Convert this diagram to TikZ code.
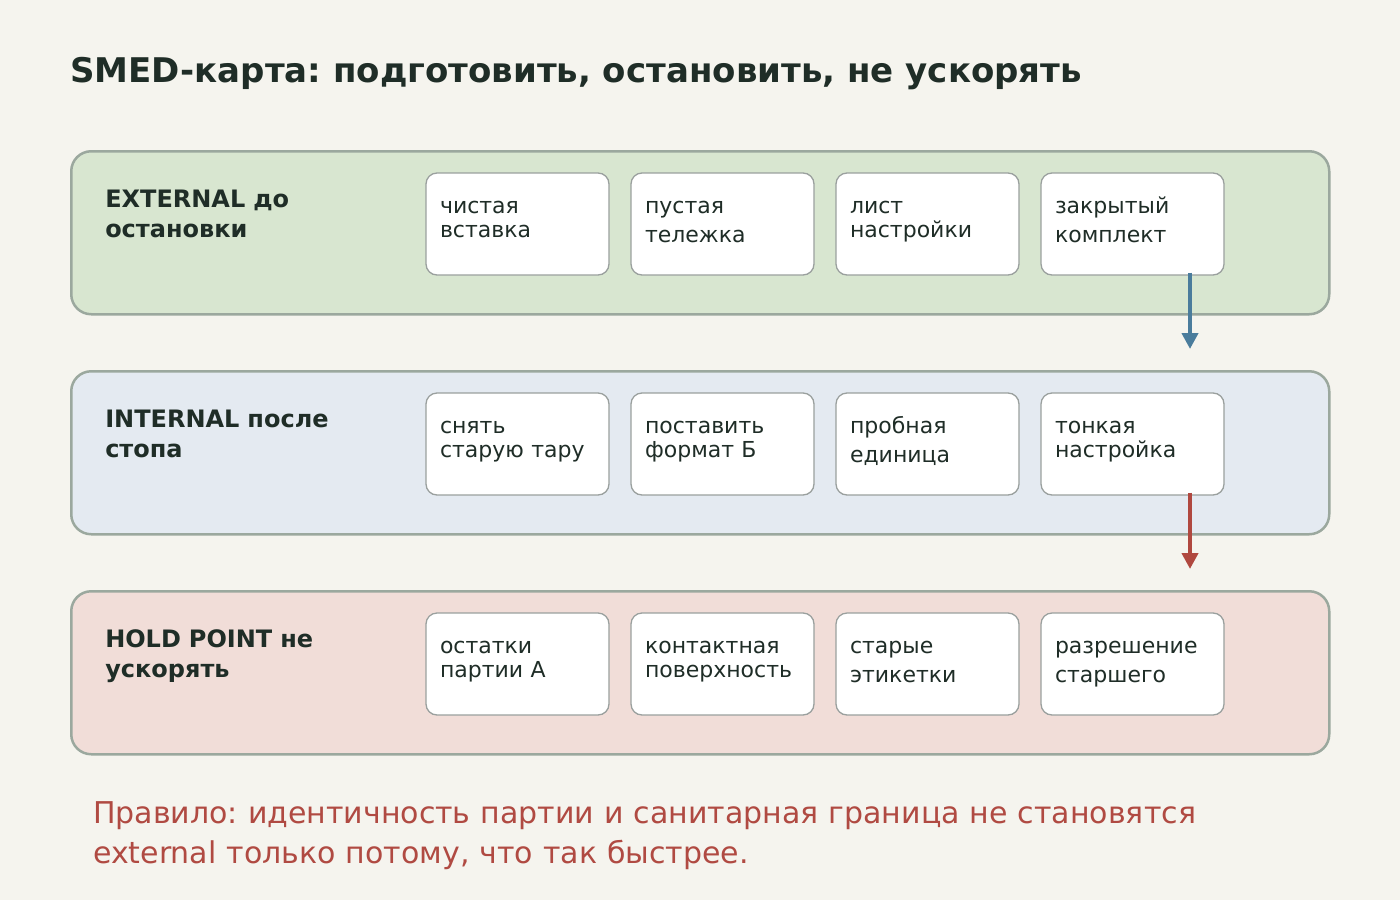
\documentclass[tikz,border=0pt]{standalone}
\usepackage{fontspec}
\setmainfont{DejaVu Sans}
\usepackage{xcolor}
\usepackage{tikz}
\usetikzlibrary{arrows.meta, positioning}
\frenchspacing
\definecolor{pagebg}{HTML}{F5F4EE}
\definecolor{inkdark}{HTML}{1F2D27}
\definecolor{laneline}{HTML}{9BA89E}
\definecolor{cardline}{HTML}{9AA09E}
\definecolor{extfill}{HTML}{D8E6D0}
\definecolor{intfill}{HTML}{E4EAF1}
\definecolor{holdfill}{HTML}{F1DDD8}
\definecolor{arrowblue}{HTML}{4A7C9C}
\definecolor{arrowred}{HTML}{B0483F}
\definecolor{ruletext}{HTML}{B04A42}
\tikzset{
  lane/.style={rectangle, draw=laneline, line width=2.5pt, rounded corners=20pt,
               fill=#1, anchor=north west, minimum width=1258pt,
               inner xsep=34pt, inner ysep=0pt, text width=1190pt, align=left,
               text height=56pt, text depth=107pt, text=inkdark,
               font=\fontsize{24}{30}\selectfont\bfseries},
  card/.style={rectangle, draw=cardline, line width=1.3pt, rounded corners=11pt,
               fill=white, minimum width=183pt, text width=155pt, align=left,
               inner xsep=14pt, inner ysep=0pt, text height=40pt, text depth=62pt,
               text=inkdark, font=\fontsize{22}{24}\selectfont},
  flow/.style={-{Triangle[width=16pt,length=16pt]}, line width=4pt},
}

\begin{document}
\begin{tikzpicture}[x=1pt, y=-1pt, node distance=20.7pt]

% ── Canvas ────────────────────────────────────────────────────────────────────
\fill[pagebg] (0,0) rectangle (1400,900);
\useasboundingbox (0,0) rectangle (1400,900);

% ── Title ─────────────────────────────────────────────────────────────────────
\node[anchor=base west, inner sep=0pt, text=inkdark,
      font=\fontsize{34}{40}\selectfont\bfseries] (title) at (70,82)
  {SMED-карта: подготовить, остановить, не ускорять};

% ── Lanes ─────────────────────────────────────────────────────────────────────
\node[lane=extfill]  (ext)  at (70,150) {EXTERNAL до\\остановки};
\node[lane=intfill]  (int)  at (70,370) {INTERNAL после\\стопа};
\node[lane=holdfill] (hold) at (70,590) {HOLD POINT не\\ускорять};

% ── Cards: external ───────────────────────────────────────────────────────────
\node[card, anchor=north west] (e1) at (425.35,172.35) {чистая\\вставка};
\node[card, right=of e1] (e2) {пустая\\[5pt]тележка};
\node[card, right=of e2] (e3) {лист\\настройки};
\node[card, right=of e3] (e4) {закрытый\\[5pt]комплект};

% ── Cards: internal ───────────────────────────────────────────────────────────
\node[card, anchor=north west] (i1) at (425.35,392.35) {снять\\старую тару};
\node[card, right=of i1] (i2) {поставить\\формат Б};
\node[card, right=of i2] (i3) {пробная\\[5pt]единица};
\node[card, right=of i3] (i4) {тонкая\\настройка};

% ── Cards: hold point ─────────────────────────────────────────────────────────
\node[card, anchor=north west] (h1) at (425.35,612.35) {остатки\\партии А};
\node[card, right=of h1] (h2) {контактная\\поверхность};
\node[card, right=of h2] (h3) {старые\\[5pt]этикетки};
\node[card, right=of h3] (h4) {разрешение\\[5pt]старшего};

% ── Arrows between lanes ──────────────────────────────────────────────────────
\coordinate (down1) at (1190,349);
\coordinate (down2) at (1190,569);
\draw[flow, arrowblue] (down1 |- e4.south) ++(0,-3) -- (down1);
\draw[flow, arrowred]  (down2 |- i4.south) ++(0,-3) -- (down2);

% ── Rule ──────────────────────────────────────────────────────────────────────
\node[anchor=base west, inner sep=0pt, align=left, text width=1250pt,
      text=ruletext, font=\fontsize{30}{40}\selectfont] (rule) at (93,823)
  {Правило: идентичность партии и санитарная граница не становятся\\
   external только потому, что так быстрее.};

\end{tikzpicture}
\end{document}
